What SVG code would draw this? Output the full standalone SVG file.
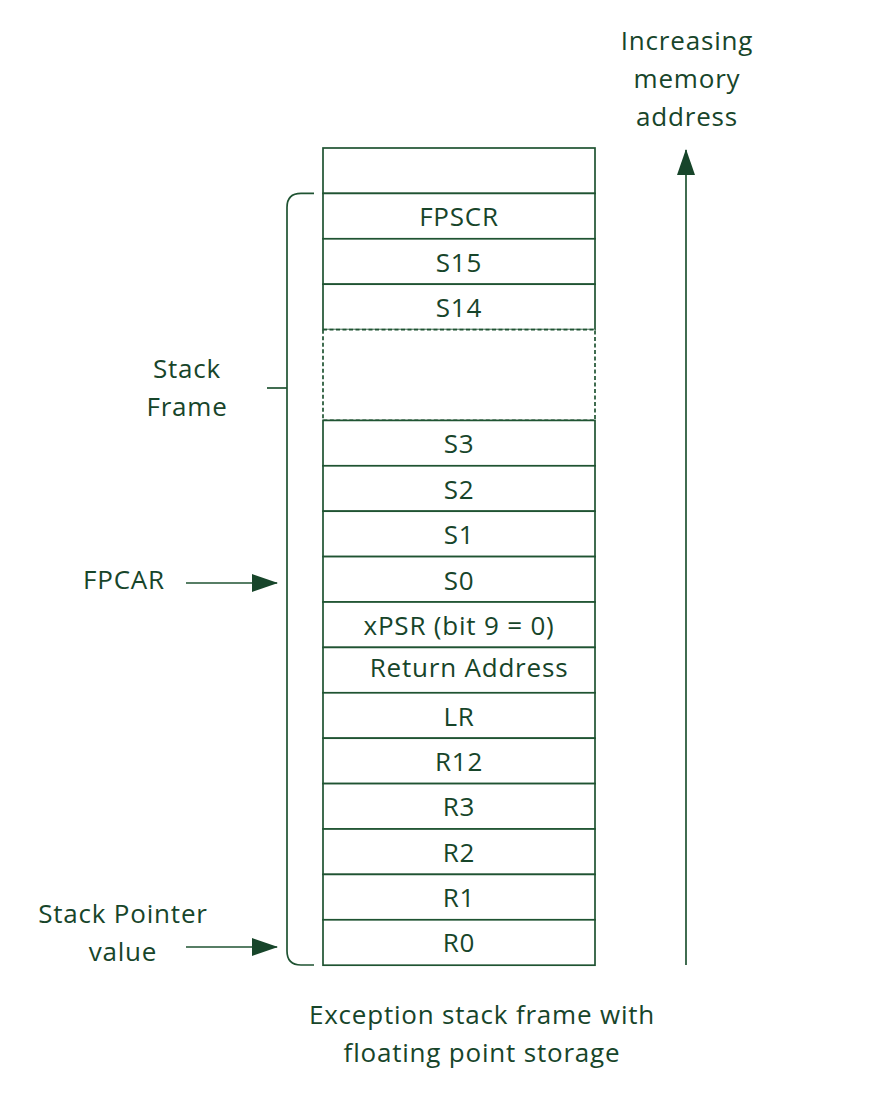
<svg xmlns="http://www.w3.org/2000/svg" width="877" height="1103" viewBox="0 0 877 1103">
<style>
.cell{fill:#fff;stroke:#1f5332;stroke-width:1.7}
.dash{fill:#fff;stroke:#1f5332;stroke-width:1.7;stroke-dasharray:4 2.5}
.ln{fill:none;stroke:#1f5332;stroke-width:1.7}
text{font-family:"Open Sans","Liberation Sans",sans-serif;font-size:26px;letter-spacing:0.8px;fill:#17452a;text-anchor:middle}
</style>
<defs>
<marker id="ah" markerWidth="26" markerHeight="18" refX="25" refY="9" orient="auto" markerUnits="userSpaceOnUse">
<path d="M0,0 L26,9 L0,18 Z" fill="#17452a"/>
</marker>
</defs>
<rect width="877" height="1103" fill="#fff"/>
<g id="stack">
<g id="row-empty"><rect class="cell" x="323" y="148" width="272" height="45.4"/></g>
<g id="row-fpscr"><rect class="cell" x="323" y="193.4" width="272" height="45.4"/><text x="459" y="226">FPSCR</text></g>
<g id="row-s15"><rect class="cell" x="323" y="238.8" width="272" height="45.4"/><text x="459" y="271.5">S15</text></g>
<g id="row-s14"><rect class="cell" x="323" y="284.2" width="272" height="45.4"/><text x="459" y="317">S14</text></g>
<g id="row-gap"><rect class="dash" x="323" y="329.6" width="272" height="90.8"/></g>
<g id="row-s3"><rect class="cell" x="323" y="420.4" width="272" height="45.4"/><text x="459" y="453">S3</text></g>
<g id="row-s2"><rect class="cell" x="323" y="465.8" width="272" height="45.4"/><text x="459" y="498.5">S2</text></g>
<g id="row-s1"><rect class="cell" x="323" y="511.2" width="272" height="45.4"/><text x="459" y="544">S1</text></g>
<g id="row-s0"><rect class="cell" x="323" y="556.6" width="272" height="45.4"/><text x="459" y="589.5">S0</text></g>
<g id="row-xpsr"><rect class="cell" x="323" y="602" width="272" height="45.4"/><text x="459" y="635">xPSR (bit 9 = 0)</text></g>
<g id="row-ret"><rect class="cell" x="323" y="647.4" width="272" height="45.4"/><text x="469" y="676.5">Return Address</text></g>
<g id="row-lr"><rect class="cell" x="323" y="692.8" width="272" height="45.4"/><text x="459" y="725.5">LR</text></g>
<g id="row-r12"><rect class="cell" x="323" y="738.2" width="272" height="45.4"/><text x="459" y="771">R12</text></g>
<g id="row-r3"><rect class="cell" x="323" y="783.6" width="272" height="45.4"/><text x="459" y="816">R3</text></g>
<g id="row-r2"><rect class="cell" x="323" y="829" width="272" height="45.4"/><text x="459" y="861.5">R2</text></g>
<g id="row-r1"><rect class="cell" x="323" y="874.4" width="272" height="45.4"/><text x="459" y="907">R1</text></g>
<g id="row-r0"><rect class="cell" x="323" y="919.8" width="272" height="45.4"/><text x="459" y="952">R0</text></g>
</g>
<g id="brace">
<path class="ln" d="M314,193.4 L301,193.4 Q287,193.4 287,207.4 L287,951 Q287,965 301,965 L314,965"/>
<path class="ln" d="M267,388 L287,388"/>
</g>
<g id="label-stackframe"><text x="187" y="378">Stack</text><text x="187" y="416">Frame</text></g>
<g id="label-fpcar"><text x="124" y="589">FPCAR</text></g>
<g id="label-sp"><text x="123" y="923">Stack Pointer</text><text x="123" y="961">value</text></g>
<g id="label-mem"><text x="687" y="50">Increasing</text><text x="687" y="88">memory</text><text x="687" y="126">address</text></g>
<g id="caption"><text x="482" y="1024">Exception stack frame with</text><text x="482" y="1062">floating point storage</text></g>
<g id="connectors">
<line class="ln" x1="186" y1="583" x2="277" y2="583" marker-end="url(#ah)"/>
<line class="ln" x1="186" y1="947" x2="277" y2="947" marker-end="url(#ah)"/>
<line class="ln" x1="686" y1="965" x2="686" y2="150" marker-end="url(#ah)"/>
</g>
</svg>
